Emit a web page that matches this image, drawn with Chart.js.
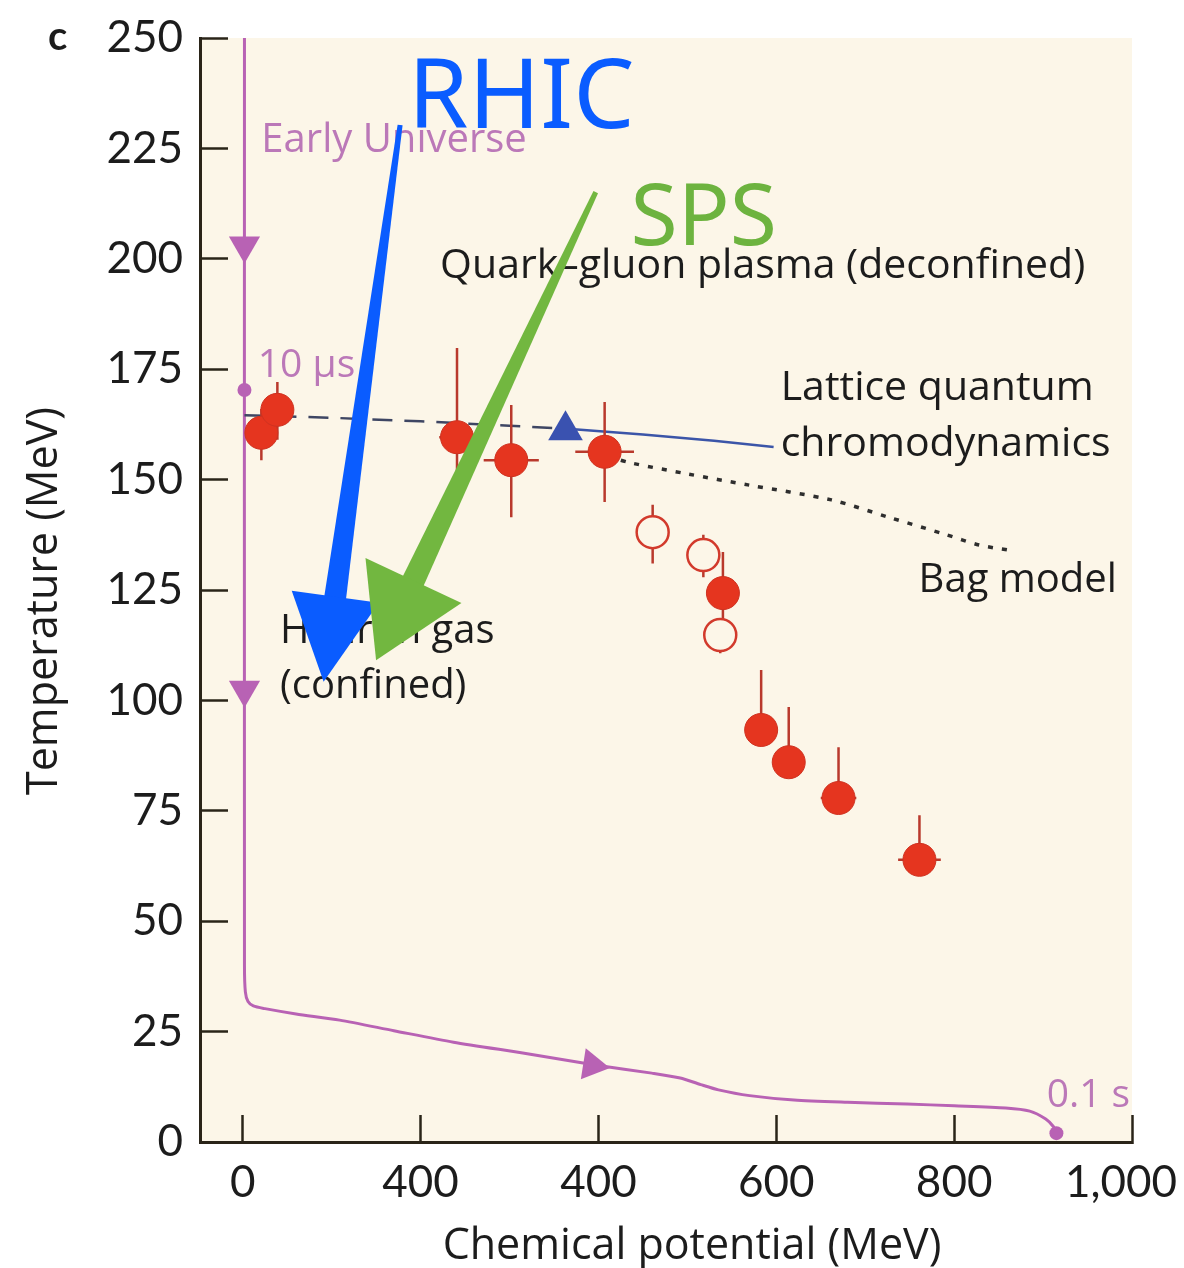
<!DOCTYPE html>
<html>
<head>
<meta charset="utf-8">
<script src="https://cdn.jsdelivr.net/npm/chart.js@4.4.1/dist/chart.umd.min.js"></script>
<style>
  html, body { margin: 0; padding: 0; background: #ffffff; }
  canvas { display: block; }
</style>
</head>
<body>
<canvas id="myChart" width="1184" height="1268"></canvas>
<script>
// axis ticks (the second x label really reads "400" in the figure)
const xTicks = [0, 200, 400, 600, 800, 1000];
const xTickLabels = ['0', '400', '400', '600', '800', '1,000\u2002'];
const yTicks = [0, 25, 50, 75, 100, 125, 150, 175, 200, 225, 250];
const yTickLabels = ['0', '25', '50', '75', '100', '125', '150', '175', '200', '225', '250'];

// freeze-out points, filled
const filledMu    = [21, 39, 241, 302, 407, 540, 583, 614, 670, 761];
const filledT     = [160.6, 165.8, 159.6, 154.4, 156.3, 124.3, 93.3, 86.0, 77.9, 63.9];
const filledTHi   = [166.0, 172.1, 179.8, 166.9, 167.6, 133.6, 106.9, 98.5, 89.4, 74.0];
const filledTLo   = [154.4, 159.0, 150.0, 141.5, 144.9, 118.2, 93.3, 86.0, 77.9, 63.9];
const filledMuErr = [0, 0, 20, 31, 33, 0, 0, 0, 20, 24];

// freeze-out points, open
const openMu  = [461, 518, 537];
const openT   = [138.1, 132.9, 114.8];
const openTHi = [144.3, 137.5, 117.5];
const openTLo = [131.0, 127.9, 110.7];

// lattice critical point
const latticePointMu = [363];
const latticePointT = [161.2];

// lattice QCD line (dashed part, then solid part)
const latticeDashMu = [2, 100, 200, 300, 365];
const latticeDashT  = [164.6, 164.0, 163.2, 162.2, 161.5];
const latticeSolidMu = [365, 450, 530, 597];
const latticeSolidT  = [161.5, 160.2, 158.8, 157.4];

// bag model
const bagMu = [410, 436, 500, 568, 662, 726, 790, 828, 862];
const bagT  = [155.3, 153.8, 151.3, 148.8, 145.4, 141.5, 137.6, 135.2, 134.0];

// early universe trajectory
const trajMu = [2, 2, 3, 6, 12, 25, 60, 109, 170, 237, 320, 398, 460, 492, 515, 535, 570, 620, 680, 747, 800, 858, 885, 903, 912, 915];
const trajT  = [250, 40, 34, 31.8, 30.8, 30.2, 29.0, 27.6, 25.2, 22.6, 20.0, 17.4, 15.6, 14.5, 13.0, 11.8, 10.5, 9.5, 9.0, 8.6, 8.2, 7.7, 7.0, 5.2, 3.4, 2.0];
const trajDotMu = [2, 915];
const trajDotT  = [170.3, 2.0];
const trajArrowMu = [2, 2, 393];
const trajArrowT  = [203, 102.4, 17.4];
const trajArrowRot = [180, 180, 99];

const cream = '#fcf6e8';
const axisColor = '#2a2418';
const purple = '#b862b4';
const purpleText = '#bb78b8';
const redFill = '#e5351f';
const redBar = '#b9392c';
const labelFont = '"Open Sans"';

function pts(xs, ys) {
    return xs.map(function (x, i) { return {x: x, y: ys[i]}; });
}

// error bar segments, broken by null points
function errorSegments(mu, t, lo, hi, muErr) {
    var out = [];
    mu.forEach(function (x, i) {
        out.push({x: x, y: lo[i]}, {x: x, y: hi[i]}, {x: x, y: null});
        if (muErr && muErr[i] > 0) {
            out.push({x: x - muErr[i], y: t[i]}, {x: x + muErr[i], y: t[i]}, {x: x, y: null});
        }
    });
    return out;
}

// text notes, placed in data units (left edge, baseline)
const notes = [
    {text: 'Early Universe', mu: 21, t: 224.2, color: purpleText, size: 40},
    {text: '10 \u00b5s', mu: 17, t: 173.2, color: purpleText, size: 39},
    {text: 'Quark\u2013gluon plasma (deconfined)', mu: 222, t: 195.7, color: '#1c1c1c', size: 41},
    {text: 'Lattice quantum', mu: 605, t: 168.0, color: '#1c1c1c', size: 41},
    {text: 'chromodynamics', mu: 605, t: 155.3, color: '#1c1c1c', size: 41},
    {text: 'Bag model', mu: 760, t: 124.5, color: '#1c1c1c', size: 40},
    {text: 'Hadron gas', mu: 42, t: 113.0, color: '#1c1c1c', size: 40},
    {text: '(confined)', mu: 42, t: 100.5, color: '#1c1c1c', size: 40},
    {text: '0.1 s', mu: 904, t: 7.9, color: purpleText, size: 39},
    {text: 'RHIC', mu: 186, t: 229.6, color: '#0a5cff', size: 97, family: '"Noto Sans"'},
    {text: 'SPS', mu: 436, t: 203.1, color: '#6db33f', size: 86, family: '"Noto Sans"'}
];

// hand-drawn arrows, data units
const arrows = [
    {from: [177, 230.3], to: [91, 104.2], color: '#0a5cff', w0: 5, w1: 22, headLen: 86, headW: 88},
    {from: [397, 215.1], to: [150, 109.1], color: '#72b740', w0: 5, w1: 23, headLen: 88, headW: 106}
];

function drawArrow(ctx, x0, y0, x1, y1, a) {
    var dx = x1 - x0, dy = y1 - y0, len = Math.hypot(dx, dy);
    var ux = dx / len, uy = dy / len, nx = -uy, ny = ux;
    var bx = x1 - ux * a.headLen, by = y1 - uy * a.headLen;
    ctx.fillStyle = a.color;
    ctx.beginPath();
    ctx.moveTo(x0 + nx * a.w0 / 2, y0 + ny * a.w0 / 2);
    ctx.lineTo(bx + ux * 4 + nx * a.w1 / 2, by + uy * 4 + ny * a.w1 / 2);
    ctx.lineTo(bx + ux * 4 - nx * a.w1 / 2, by + uy * 4 - ny * a.w1 / 2);
    ctx.lineTo(x0 - nx * a.w0 / 2, y0 - ny * a.w0 / 2);
    ctx.closePath();
    ctx.fill();
    ctx.beginPath();
    ctx.moveTo(x1, y1);
    ctx.lineTo(bx + nx * a.headW / 2, by + ny * a.headW / 2);
    ctx.lineTo(bx - nx * a.headW / 2, by - ny * a.headW / 2);
    ctx.closePath();
    ctx.fill();
}

function noPadding(s) {
    s.paddingLeft = 0;
    s.paddingRight = 0;
    s.paddingTop = 0;
    s.paddingBottom = 0;
}

const decor = {
    id: 'decor',
    beforeDraw: function (chart) {
        var ctx = chart.ctx, a = chart.chartArea;
        ctx.save();
        ctx.fillStyle = cream;
        ctx.fillRect(a.left, a.top, a.right - a.left, a.bottom - a.top);
        ctx.restore();
    },
    afterDatasetsDraw: function (chart) {
        var ctx = chart.ctx, sx = chart.scales.x, sy = chart.scales.y;
        ctx.save();
        ctx.textAlign = 'left';
        ctx.textBaseline = 'alphabetic';
        notes.forEach(function (n) {
            ctx.font = n.size + 'px ' + (n.family || labelFont);
            ctx.fillStyle = n.color;
            ctx.fillText(n.text, sx.getPixelForValue(n.mu), sy.getPixelForValue(n.t));
        });
        arrows.forEach(function (ar) {
            drawArrow(ctx,
                sx.getPixelForValue(ar.from[0]), sy.getPixelForValue(ar.from[1]),
                sx.getPixelForValue(ar.to[0]), sy.getPixelForValue(ar.to[1]), ar);
        });
        ctx.restore();
    },
    afterDraw: function (chart) {
        var ctx = chart.ctx;
        ctx.save();
        ctx.fillStyle = '#1c1c1c';
        ctx.font = 'bold 40px Lato';
        ctx.textAlign = 'left';
        ctx.textBaseline = 'alphabetic';
        ctx.fillText('c', 48, 50);
        ctx.font = '43px ' + labelFont;
        ctx.textAlign = 'center';
        ctx.fillText('Chemical potential (MeV)', 692, 1259);
        ctx.translate(57, 601);
        ctx.rotate(-Math.PI / 2);
        ctx.fillText('Temperature (MeV)', 0, 0);
        ctx.restore();
    }
};

const ctx = document.getElementById('myChart').getContext('2d');
const myChart = new Chart(ctx, {
    type: 'scatter',
    data: {
        datasets: [
            {
                label: 'Lattice critical point',
                data: pts(latticePointMu, latticePointT),
                pointStyle: 'triangle',
                pointRadius: 20,
                backgroundColor: '#3a52b0',
                borderWidth: 0
            },
            {
                label: 'Open points',
                data: pts(openMu, openT),
                pointRadius: 16,
                backgroundColor: cream,
                borderColor: '#d23a2c',
                borderWidth: 2.5
            },
            {
                label: 'Filled points',
                data: pts(filledMu, filledT),
                pointRadius: 16.5,
                backgroundColor: redFill,
                borderColor: '#cf3220',
                borderWidth: 1
            },
            {
                label: 'Error bars',
                data: errorSegments(filledMu, filledT, filledTLo, filledTHi, filledMuErr)
                    .concat(errorSegments(openMu, openT, openTLo, openTHi, null)),
                showLine: true,
                spanGaps: false,
                pointRadius: 0,
                borderColor: redBar,
                borderWidth: 2.5
            },
            {
                label: 'Bag model',
                data: pts(bagMu, bagT),
                showLine: true,
                pointRadius: 0,
                borderColor: '#2e2e2e',
                borderWidth: 3.5,
                borderDash: [5, 9],
                tension: 0.3
            },
            {
                label: 'Lattice QCD',
                data: pts(latticeSolidMu, latticeSolidT),
                showLine: true,
                pointRadius: 0,
                borderColor: '#3b55a8',
                borderWidth: 2.5
            },
            {
                label: 'Lattice QCD (dashed)',
                data: pts(latticeDashMu, latticeDashT),
                showLine: true,
                pointRadius: 0,
                borderColor: '#3e4663',
                borderWidth: 2.5,
                borderDash: [20, 12]
            },
            {
                label: 'Trajectory arrows',
                data: pts(trajArrowMu, trajArrowT),
                pointStyle: 'triangle',
                pointRadius: 18,
                rotation: trajArrowRot,
                backgroundColor: purple,
                borderWidth: 0
            },
            {
                label: 'Trajectory dots',
                data: pts(trajDotMu, trajDotT),
                pointRadius: 7,
                backgroundColor: purple,
                borderWidth: 0
            },
            {
                label: 'Early Universe',
                data: pts(trajMu, trajT),
                showLine: true,
                pointRadius: 0,
                borderColor: purple,
                borderWidth: 3,
                tension: 0.25
            }
        ]
    },
    options: {
        responsive: false,
        animation: false,
        devicePixelRatio: 1,
        layout: { padding: { top: 38, right: 52, bottom: 0, left: 0 } },
        plugins: {
            legend: { display: false },
            tooltip: { enabled: false }
        },
        scales: {
            x: {
                type: 'linear',
                min: -48,
                max: 1000,
                afterBuildTicks: function (s) { s.ticks = xTicks.map(function (v) { return {value: v}; }); },
                afterFit: function (s) { s.height = 126; noPadding(s); },
                border: { display: true, color: axisColor, width: 3 },
                grid: { display: true, drawOnChartArea: false, drawTicks: true, tickLength: -27, tickWidth: 2.5, tickColor: axisColor, color: axisColor },
                ticks: {
                    padding: 41,
                    maxRotation: 0,
                    autoSkip: false,
                    color: '#1c1c1c',
                    font: { family: 'Lato', size: 44 },
                    callback: function (v, i) { return xTickLabels[i]; }
                }
            },
            y: {
                type: 'linear',
                min: 0,
                max: 250,
                afterBuildTicks: function (s) { s.ticks = yTicks.map(function (v) { return {value: v}; }); },
                afterFit: function (s) { s.width = 200; noPadding(s); },
                border: { display: true, color: axisColor, width: 3 },
                grid: { display: true, drawOnChartArea: false, drawTicks: true, tickLength: -28, tickWidth: 2.5, tickColor: axisColor, color: axisColor },
                ticks: {
                    padding: 45,
                    autoSkip: false,
                    color: '#1c1c1c',
                    font: { family: 'Lato', size: 44 },
                    callback: function (v, i) { return yTickLabels[i]; }
                }
            }
        }
    },
    plugins: [decor]
});
</script>
</body>
</html>
